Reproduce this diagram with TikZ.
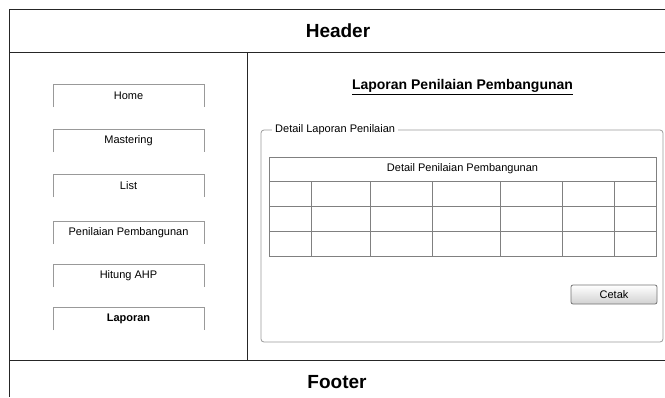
\documentclass[tikz,border=0pt]{standalone}
\usepackage{fontspec}
\setmainfont{Liberation Sans}
\begin{document}
\begin{tikzpicture}[x=1pt,y=-1pt,
  frameline/.style={draw=black!85,line width=1pt},
  navbtn/.style={draw=black!40,line width=0.8pt},
  navtext/.style={font=\fontsize{11}{13}\selectfont,inner sep=0pt},
  bigtext/.style={font=\fontsize{19}{22}\selectfont\bfseries,inner sep=0pt},
  gridline/.style={draw=black!50,line width=0.8pt},
  groupbox/.style={draw=black!40,line width=0.8pt,rounded corners=3pt},
  cetakbtn/.style={draw=black!55,line width=0.8pt,rounded corners=2pt,
    top color=white,bottom color=black!18,minimum width=86pt,minimum height=19pt,
    font=\fontsize{11}{13}\selectfont,inner sep=0pt}]
\useasboundingbox (0,0) rectangle (665,397);

% page frame: header band, navigation column, content area, footer band
\draw[frameline] (665,9) -- (9,9) -- (9,397);
\draw[frameline] (9,52) -- (665,52);
\draw[frameline] (247,52) -- (247,360);
\draw[frameline] (9,360) -- (665,360);
\node[bigtext] (hdr) at (338,31) {Header};
\node[bigtext] (ftr) at (337,382) {Footer};

% navigation buttons (open at the bottom)
\foreach \t/\lbl/\nm in {84/Home/home,129/Mastering/mast,174/List/list,
    221/Penilaian Pembangunan/pnl,264/Hitung AHP/ahp} {
  \draw[navbtn] (53,\t+23) -- (53,\t) -- (204,\t) -- (204,\t+23);
  \node[navtext] (\nm) at (128.5,\t+12) {\lbl};
}
\draw[navbtn] (53,330) -- (53,307) -- (204,307) -- (204,330);
\node[navtext,font=\fontsize{11}{13}\selectfont\bfseries] (lap) at (128.5,319) {Laporan};

% content title
\node[font=\fontsize{14}{16}\selectfont\bfseries,inner sep=0pt] (title) at (462.5,87)
  {\underline{Laporan Penilaian Pembangunan}};

% group box with its legend
\draw[groupbox] (261,130) rectangle (663,342);
\node[navtext,fill=white,inner xsep=3pt,anchor=west] (legend) at (272,130) {Detail Laporan Penilaian};

% report table
\draw[gridline] (269,157) rectangle (656,256);
\node[navtext] (thead) at (462.5,169) {Detail Penilaian Pembangunan};
\foreach \y in {181,206,231} \draw[gridline] (269,\y) -- (656,\y);
\foreach \x in {311,370,432,500,562,614} \draw[gridline] (\x,181) -- (\x,256);

% print button
\node[cetakbtn] (cetak) at (614,294.5) {Cetak};
\end{tikzpicture}
\end{document}
